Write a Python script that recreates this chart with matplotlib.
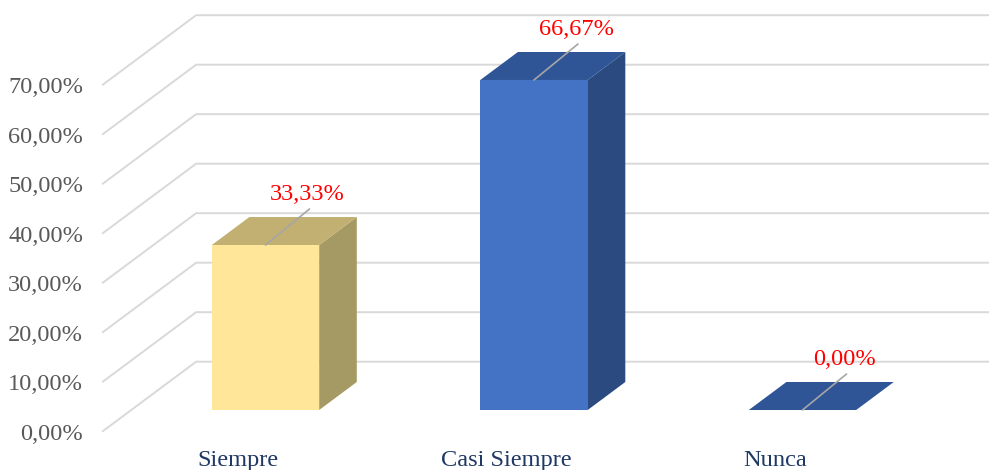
import matplotlib
matplotlib.use("Agg")
import matplotlib.pyplot as plt
from matplotlib.patches import Polygon, Rectangle
from matplotlib.transforms import offset_copy

# ---- data ----
categories = ["Siempre", "Casi Siempre", "Nunca"]
values = [33.33, 66.67, 0.00]
ticks = [0, 10, 20, 30, 40, 50, 60, 70]

# ---- styles ----
front_colors = ["#FFE699", "#4472C4", "#4472C4"]
top_colors = ["#C2B072", "#2F5597", "#2F5597"]
side_colors = ["#A69A64", "#2B4A80", "#2B4A80"]
grid_color = "#D9D9D9"
font = "Liberation Serif"
fs = 17.6

W, H, DPI = 989, 470, 100
fig = plt.figure(figsize=(W / DPI, H / DPI), dpi=DPI)
ax = fig.add_axes([0, 0, 1, 1])
ax.axis("off")

# front-plane scaling (pixels per category unit / per percent)
px_per_x = 268.5
px_per_v = 4.95
x0_px = 265.5
v0_px_from_bottom = H - 410
ax.set_xlim(-x0_px / px_per_x, (W - x0_px) / px_per_x)
ax.set_ylim(-v0_px_from_bottom / px_per_v, (H - v0_px_from_bottom) / px_per_v)

# pseudo-3D depth projection
D0 = 0.31          # depth of the bar front plane
D1 = 0.71          # depth of the bar back plane
KX = 94 / px_per_x
KY = 70 / px_per_v


def P(x, v, d):
    return (x + (d - D0) * KX, v + (d - D0) * KY)


x_lo, x_hi = -0.5, len(categories) - 0.5

# gridlines: floor side diagonal + back wall line
for t in ticks:
    a = P(x_lo, t, 0)
    b = P(x_lo, t, 1)
    c = P(x_hi, t, 1)
    ax.plot([a[0], b[0], c[0]], [a[1], b[1], c[1]], color=grid_color, lw=1.4,
            solid_capstyle="butt", zorder=1)
    lbl = f"{t:.2f}".replace(".", ",") + "%"
    ax.text(a[0], a[1], lbl, ha="right", va="baseline", fontsize=fs, family=font,
            color="#595959",
            transform=offset_copy(ax.transData, fig=fig, x=-19, y=-8, units="dots"))

bw = 0.4
for i, (cat, v) in enumerate(zip(categories, values)):
    xl, xr = i - bw / 2, i + bw / 2
    # side face
    side = [P(xr, 0, D0), P(xr, 0, D1), P(xr, v, D1), P(xr, v, D0)]
    ax.add_patch(Polygon(side, closed=True, facecolor=side_colors[i], lw=0, zorder=2))
    # top face
    top = [P(xl, v, D0), P(xr, v, D0), P(xr, v, D1), P(xl, v, D1)]
    ax.add_patch(Polygon(top, closed=True, facecolor=top_colors[i], lw=0, zorder=3))
    # front face
    if v > 0:
        ax.add_patch(Rectangle((xl, 0), bw, v, facecolor=front_colors[i], lw=0, zorder=4))
    # leader line + data label
    ax.annotate("", xy=(i, v), xytext=(44, 36), textcoords="offset pixels",
                arrowprops=dict(arrowstyle="-", color="#A6A6A6", lw=1.2,
                                shrinkA=0, shrinkB=0), zorder=5)
    ax.annotate(f"{v:.2f}".replace(".", ",") + "%", xy=(i, v), xytext=(42, 45),
                textcoords="offset pixels", ha="center", va="baseline",
                fontsize=fs, family=font, color="#FF0000", zorder=6)
    # category label
    cx, cy = P(i, 0, 0)
    ax.text(cx + 0.005, cy, cat, ha="center", va="baseline", fontsize=fs, family=font,
            color="#1F3864",
            transform=offset_copy(ax.transData, fig=fig, x=0, y=-34, units="dots"))

fig.savefig("out.png", dpi=DPI)
